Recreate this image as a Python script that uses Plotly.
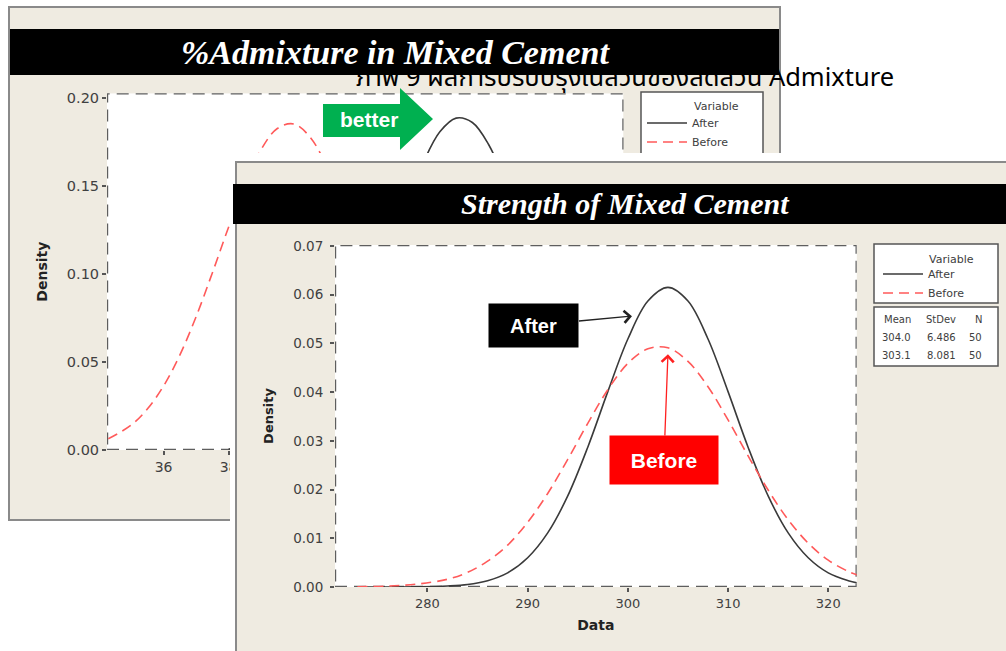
import plotly.graph_objects as go

W, H = 1006, 651

# ---------------- data ----------------
back_title = "%Admixture in Mixed Cement"
front_title = "Strength of Mixed Cement"
caption = "ภาพ 9 ผลการปรับปรุงในส่วนของสัดส่วน Admixture"
series_names = ["After", "Before"]

# back chart (%Admixture) – density curves
back_before_x = [34.3, 35.0, 35.5, 36.0, 36.5, 37.0, 37.5, 38.0, 38.5, 39.0, 39.5, 40.0,
                 40.5, 41.0, 41.5, 42.0, 43.0, 44.0, 45.0, 46.0, 47.0, 48.0, 49.0, 50.0]
back_before_y = [0.0064, 0.0141, 0.0233, 0.0364, 0.0539, 0.0757, 0.1006, 0.1266, 0.1511, 0.1707,
                 0.1827, 0.1853, 0.1780, 0.1620, 0.1397, 0.1141, 0.0648, 0.0296, 0.0109, 0.0032,
                 0.0008, 0.0001, 0.0000, 0.0000]
back_after_x = [38.0, 39.0, 40.0, 41.0, 42.0, 42.5, 43.0, 43.5, 44.0, 44.5, 45.0, 45.5, 46.0,
                46.5, 47.0, 47.5, 48.0, 49.0, 50.0]
back_after_y = [0.0006, 0.0028, 0.0098, 0.0278, 0.0629, 0.0869, 0.1136, 0.1402, 0.1637, 0.1808,
                0.1886, 0.1861, 0.1736, 0.1531, 0.1276, 0.1006, 0.0749, 0.0352, 0.0132]
back_xticks = [36, 38, 40, 42, 44, 46, 48, 50]
back_yticks = [0.00, 0.05, 0.10, 0.15, 0.20]

# front chart (Strength)
front_x = [273, 276, 279, 282, 284, 286, 288, 290, 292, 294, 296, 298, 300, 302, 304, 306,
           308, 310, 312, 314, 316, 318, 320, 322, 323]
front_after_y = [0.0000, 0.0000, 0.00004, 0.0002, 0.0005, 0.0013, 0.0029, 0.0060, 0.0111, 0.0187,
                 0.0287, 0.0401, 0.0509, 0.0587, 0.0615, 0.0587, 0.0509, 0.0401, 0.0287, 0.0187,
                 0.0111, 0.0060, 0.0029, 0.0013, 0.0008]
front_before_y = [0.00005, 0.0002, 0.0006, 0.0016, 0.0030, 0.0053, 0.0086, 0.0133, 0.0192, 0.0262,
                  0.0336, 0.0405, 0.0459, 0.0489, 0.0491, 0.0463, 0.0411, 0.0343, 0.0269, 0.0199,
                  0.0138, 0.0090, 0.0055, 0.0032, 0.0024]
front_xticks = [280, 290, 300, 310, 320]
front_yticks = [0.00, 0.01, 0.02, 0.03, 0.04, 0.05, 0.06, 0.07]

stat_headers = ["Mean", "StDev", "N"]
stat_mean = [304.0, 303.1]
stat_stdev = [6.486, 8.081]
stat_n = [50, 50]

# ---------------- styles ----------------
BEIGE = "#EFEBE1"
PANEL_LINE = "#8a8a8a"
FRAME = "#5e5e5e"
TXT = "#404040"
BLACK_CURVE = "#3a3a3a"
RED_CURVE = "#FF5A5A"
TICKFONT = "DejaVu Sans"

def px(p):
    return p / W

def py(p):
    return 1 - p / H

back_xr = [34.26, 50.15]
back_yr = [0, 0.2027]
front_xr = [270.77, 322.84]
front_yr = [0, 0.0702]

fig = go.Figure()

# back chart traces
fig.add_trace(go.Scatter(x=back_after_x, y=back_after_y, name=series_names[0], mode="lines",
                         line=dict(color=BLACK_CURVE, width=1.6, shape="spline"),
                         xaxis="x", yaxis="y", legend="legend2"))
fig.add_trace(go.Scatter(x=back_before_x, y=back_before_y, name=series_names[1], mode="lines",
                         line=dict(color=RED_CURVE, width=1.6, dash="10px,6px", shape="spline"),
                         xaxis="x", yaxis="y", legend="legend2"))
# front panel layer (covers the back chart)
fig.add_trace(go.Scatter(x=[], y=[], xaxis="x2", yaxis="y2", showlegend=False, hoverinfo="skip"))
# front chart traces
fig.add_trace(go.Scatter(x=front_x, y=front_after_y, name=series_names[0], mode="lines",
                         line=dict(color=BLACK_CURVE, width=1.6, shape="spline"),
                         xaxis="x3", yaxis="y3", legend="legend"))
fig.add_trace(go.Scatter(x=front_x, y=front_before_y, name=series_names[1], mode="lines",
                         line=dict(color=RED_CURVE, width=1.6, dash="10px,6px", shape="spline"),
                         xaxis="x3", yaxis="y3", legend="legend"))

tick_common = dict(ticks="outside", ticklen=4, tickwidth=1.5, tickcolor="#555",
                   showgrid=False, zeroline=False, showline=False, automargin=False,
                   fixedrange=True)

hidden = dict(visible=True, showticklabels=False, showgrid=False, zeroline=False,
              showline=False, ticks="", fixedrange=True, automargin=False)

shapes = [
    # back panel
    dict(type="rect", xref="paper", yref="paper", layer="below",
         x0=px(9), x1=px(780), y0=py(520), y1=py(7),
         fillcolor=BEIGE, line=dict(color=PANEL_LINE, width=2)),
    dict(type="rect", xref="paper", yref="paper", layer="below",
         x0=px(10), x1=px(779), y0=py(75), y1=py(29),
         fillcolor="black", line=dict(width=0)),
    dict(type="rect", xref="paper", yref="paper", layer="below",
         x0=px(641), x1=px(763), y0=py(180), y1=py(92),
         fillcolor="white", line=dict(color="#555", width=1.5)),
    # back plot area
    dict(type="rect", xref="x", yref="y", layer="below",
         x0=back_xr[0], x1=back_xr[1], y0=back_yr[0], y1=back_yr[1],
         fillcolor="white", line=dict(color=FRAME, width=2.4, dash="12px,7px")),
    # front panel (pixel coordinates on x2/y2)
    dict(type="rect", xref="x2", yref="y2", layer="below",
         x0=236, x1=1015, y0=162, y1=660,
         fillcolor=BEIGE, line=dict(color=PANEL_LINE, width=2)),
    dict(type="rect", xref="x2", yref="y2", layer="below",
         x0=233, x1=1015, y0=184, y1=224,
         fillcolor="black", line=dict(width=0)),
    dict(type="rect", xref="x2", yref="y2", layer="below",
         x0=874, x1=998, y0=244, y1=303,
         fillcolor="white", line=dict(color="#555", width=1.5)),
    dict(type="rect", xref="x2", yref="y2", layer="below",
         x0=874, x1=998, y0=307, y1=366,
         fillcolor="white", line=dict(color="#555", width=1.5)),
    # front plot area frame
    dict(type="rect", xref="x3", yref="y3", layer="below",
         x0=front_xr[0], x1=front_xr[1], y0=front_yr[0], y1=front_yr[1],
         fillcolor="white", line=dict(color=FRAME, width=2.4, dash="12px,7px")),
]

# green "better" block arrow
arrow_pts = [(323, 104), (400, 104), (400, 88), (433, 119), (400, 150), (400, 137), (323, 137)]
path = "M " + " L ".join(f"{px(a):.5f},{py(b):.5f}" for a, b in arrow_pts) + " Z"
shapes.append(dict(type="path", xref="paper", yref="paper", layer="above", path=path,
                   fillcolor="#00B050", line=dict(width=0)))

def note(xp, yp, text, size, color="white", family="Liberation Sans", xanchor="center", **font_kw):
    return dict(xref="paper", yref="paper", x=px(xp), y=py(yp), text=text, showarrow=False,
                xanchor=xanchor, yanchor="middle",
                font=dict(family=family, size=size, color=color, **font_kw))

annotations = [
    note(395, 52, back_title, 34, family="Liberation Serif", weight="bold", style="italic"),
    note(625, 204, front_title, 30, family="Liberation Serif", weight="bold", style="italic"),
    note(625, 78, caption, 25.5, color="black",
         family="Noto Sans Thai, Loma, Tahoma, DejaVu Sans, sans-serif"),
    note(369, 120, "better", 21, weight="bold"),
    note(927, 259, "Variable", 11, color=TXT, family=TICKFONT, xanchor="left"),
    note(692, 106, "Variable", 11, color=TXT, family=TICKFONT, xanchor="left"),
    dict(xref="x3", yref="y3", x=300.41, y=0.0556, ax=-98, ay=9, text="After",
         showarrow=True, arrowhead=4, arrowsize=1.8, arrowwidth=1.3, arrowcolor="#222",
         bgcolor="black", width=85, height=39, borderpad=2,
         font=dict(family="Liberation Sans", size=20, color="white", weight="bold")),
    dict(xref="x3", yref="y3", x=304.0, y=0.0478, ax=-4, ay=106, text="Before",
         showarrow=True, arrowhead=4, arrowsize=1.8, arrowwidth=1.3, arrowcolor="#FF2020",
         bgcolor="#FF0000", width=104, height=44, borderpad=2,
         font=dict(family="Liberation Sans", size=21, color="white", weight="bold")),
]

# stats table
col_right = [913, 958, 984]
row_y = [319, 337, 355]
for j, h in enumerate(stat_headers):
    annotations.append(note(col_right[j], row_y[0], h, 10, color=TXT, family=TICKFONT,
                            xanchor="right"))
for i in range(len(stat_mean)):
    vals = [f"{stat_mean[i]:.1f}", f"{stat_stdev[i]:.3f}", f"{stat_n[i]}"]
    for j, v in enumerate(vals):
        annotations.append(note(col_right[j], row_y[i + 1], v, 10, color=TXT, family=TICKFONT,
                                xanchor="right"))

legend_common = dict(xanchor="left", yanchor="top", bgcolor="rgba(0,0,0,0)", borderwidth=0,
                     font=dict(family=TICKFONT, size=11, color=TXT), itemwidth=40,
                     tracegroupgap=0)

fig.update_layout(
    width=W, height=H, margin=dict(l=0, r=0, t=0, b=0, pad=0),
    paper_bgcolor="white", plot_bgcolor="white",
    showlegend=True,
    legend=dict(x=px(878), y=py(259.5), **legend_common),
    legend2=dict(x=px(642), y=py(108.5), **legend_common),
    xaxis=dict(domain=[px(107), px(623.5)], range=back_xr, tickvals=back_xticks,
               tickfont=dict(family=TICKFONT, size=14, color=TXT), anchor="y", **tick_common),
    yaxis=dict(domain=[py(450), py(93.3)], range=back_yr, tickvals=back_yticks, tickformat=".2f",
               tickfont=dict(family=TICKFONT, size=14.5, color=TXT), anchor="x",
               title=dict(text="Density", standoff=15,
                          font=dict(family=TICKFONT, size=14, color="#222", weight="bold")),
               **tick_common),
    xaxis2=dict(domain=[px(230), 1], range=[230, 1006], anchor="y2", **hidden),
    yaxis2=dict(domain=[0, py(153)], range=[651, 153], anchor="x2", **hidden),
    xaxis3=dict(domain=[px(335), px(856.7)], range=front_xr, tickvals=front_xticks,
                tickfont=dict(family=TICKFONT, size=13, color=TXT), anchor="y3",
                title=dict(text="Data", standoff=10,
                           font=dict(family=TICKFONT, size=14, color="#222", weight="bold")),
                **tick_common),
    yaxis3=dict(domain=[py(587), py(245)], range=front_yr, tickvals=front_yticks, tickformat=".2f",
                tickfont=dict(family=TICKFONT, size=13.5, color=TXT), anchor="x3",
                ticklabelstandoff=4,
                title=dict(text="Density", standoff=16,
                           font=dict(family=TICKFONT, size=13, color="#222", weight="bold")),
                **tick_common),
    shapes=shapes,
    annotations=annotations,
)

fig.write_html("out.html", config={"displayModeBar": False},
               post_script="document.body.style.margin='0';document.body.style.overflow='hidden';")
